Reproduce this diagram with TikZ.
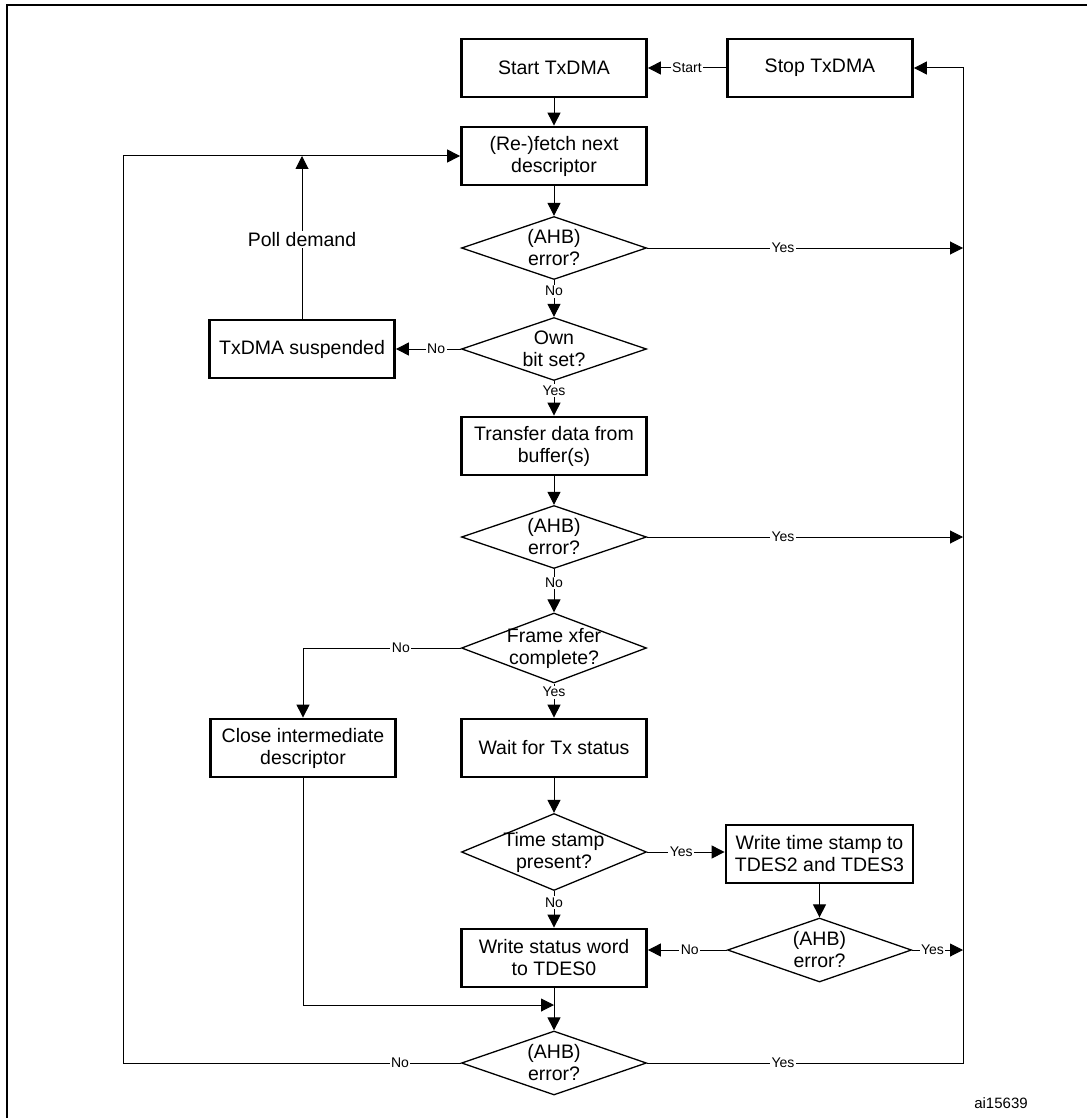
\documentclass[tikz,border=0pt]{standalone}
\usepackage{fontspec}
\setmainfont{Liberation Sans}
\usetikzlibrary{shapes.geometric,arrows.meta}
\begin{document}
\begin{tikzpicture}[x=1pt,y=-1pt,
  box/.style={draw, line width=2.8pt, minimum width=185pt, minimum height=58pt, align=center, inner sep=2pt, font=\fontsize{19.5}{22}\selectfont},
  dia/.style={draw, diamond, line width=1.3pt, minimum width=185pt, minimum height=63pt, inner sep=0pt},
  dtext/.style={align=center, font=\fontsize{19.5}{22}\selectfont, inner sep=0pt},
  lbl/.style={fill=white, inner sep=1.5pt, font=\fontsize{14}{16}\selectfont},
  conn/.style={line width=1pt},
  arr/.style={conn, -{Triangle[length=13pt,width=13pt]}}
]
\useasboundingbox (0,0) rectangle (1087,1118);
\draw[line width=2pt] (7,1118) -- (7,5) -- (1087,5);

\coordinate (L) at (123,0);
\coordinate (R) at (963,0);
\coordinate (J) at (554,1005);

\node[box] (start) at (554,68) {Start TxDMA};
\node[box] (stop) at (820,68) {Stop TxDMA};
\node[box] (fetch) at (554,156) {(Re-)fetch next\\descriptor};
\node[dia, label={[dtext]center:(AHB)\\error?}] (d1) at (554,248) {};
\node[box] (susp) at (302,349) {TxDMA suspended};
\node[dia, label={[dtext]center:Own\\bit set?}] (own) at (554,349) {};
\node[box] (xfer) at (554,446) {Transfer data from\\buffer(s)};
\node[dia, label={[dtext]center:(AHB)\\error?}] (d2) at (554,537) {};
\node[dia, minimum height=70pt, label={[dtext]center:Frame xfer\\complete?}] (frame) at (554,648) {};
\node[box] (close) at (303,748) {Close intermediate\\descriptor};
\node[box] (wait) at (554,748) {Wait for Tx status};
\node[dia, minimum height=77pt, label={[dtext]center:Time stamp\\present?}] (ts) at (554,852) {};
\node[box, minimum width=187pt] (wts) at (819.5,854) {Write time stamp to\\TDES2 and TDES3};
\node[dia, minimum width=184pt, minimum height=64pt, label={[dtext]center:(AHB)\\error?}] (d3) at (819.5,950) {};
\node[box] (wsw) at (554,958) {Write status word\\to TDES0};
\node[dia, minimum height=64pt, label={[dtext]center:(AHB)\\error?}] (d4) at (554,1063) {};
\node[font=\fontsize{15}{17}\selectfont] (id) at (1001,1103) {ai15639};

% main column
\draw[arr] (stop.west) -- node[lbl]{Start} (start.east);
\draw[arr] (start.south) -- (fetch.north);
\draw[arr] (fetch.south) -- (d1.north);
\draw[arr] (d1.south) -- node[lbl,pos=.3]{No} (own.north);
\draw[arr] (own.west) -- node[lbl,pos=.38]{No} (susp.east);
\draw[arr] (own.south) -- node[lbl,pos=.28]{Yes} (xfer.north);
\draw[arr] (xfer.south) -- (d2.north);
\draw[arr] (d2.south) -- node[lbl,pos=.32]{No} (frame.north);
\draw[arr] (frame.south) -- node[lbl,pos=.25]{Yes} (wait.north);
\draw[arr] (frame.west) -- node[lbl,pos=.38]{No} (frame.west -| close.north) -- (close.north);
\draw[arr] (wait.south) -- (ts.north);
\draw[arr] (ts.south) -- node[lbl,pos=.31]{No} (wsw.north);
\draw[arr] (ts.east) -- node[lbl,pos=.44]{Yes} (ts.east -| wts.west);
\draw[arr] (wts.south) -- (d3.north);
\draw[arr] (d3.west) -- node[lbl,pos=.47]{No} (d3.west -| wsw.east);
\draw[arr] (wsw.south) -- (d4.north);
\draw[arr] (close.south) |- (J);

% poll demand
\draw[arr] (susp.north) -- node[lbl,pos=.485,font=\fontsize{19.5}{22}\selectfont]{Poll demand} (susp.north |- fetch.west);

% right bus
\draw[arr] (d1.east) -- node[lbl,pos=.43]{Yes} (d1.east -| R);
\draw[arr] (d2.east) -- node[lbl,pos=.43]{Yes} (d2.east -| R);
\draw[arr] (d3.east) -- node[lbl,pos=.4]{Yes} (d3.east -| R);
\draw[arr] (d4.east) -- node[lbl,pos=.43]{Yes} (d4.east -| R) -- (R |- stop.east) -- (stop.east);

% left loop
\draw[arr] (d4.west) -- node[lbl,pos=.18]{No} (d4.west -| L) |- (fetch.west);
\end{tikzpicture}
\end{document}
